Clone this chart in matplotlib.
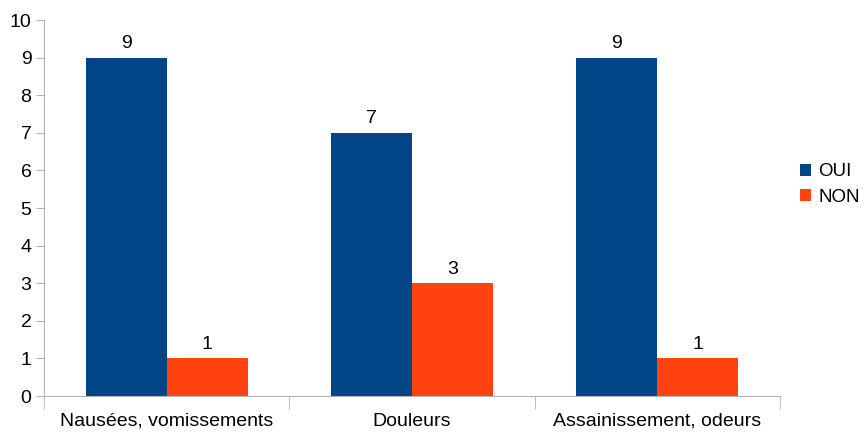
import numpy as np
import matplotlib.pyplot as plt

plt.rcParams['font.family'] = ['Liberation Sans', 'DejaVu Sans']

categories = ['Nausées, vomissements', 'Douleurs', 'Assainissement, odeurs']
oui = [9, 7, 9]
non = [1, 3, 1]
series_names = ['OUI', 'NON']
colors = ['#004586', '#ff420e']

fig = plt.figure(figsize=(8.66, 4.32), dpi=100)
ax = fig.add_axes([0.0508, 0.0833, 0.85, 0.8704])

x = np.arange(len(categories))
w = 0.33
b1 = ax.bar(x - w / 2, oui, w, color=colors[0], label=series_names[0])
b2 = ax.bar(x + w / 2, non, w, color=colors[1], label=series_names[1])
for bars in (b1, b2):
    ax.bar_label(bars, padding=4, fontsize=14)

ax.set_xlim(-0.5, len(categories) - 0.5)
ax.set_ylim(0, 10)
ax.set_yticks(range(0, 11))
ax.set_xticks(x)
ax.set_xticklabels(categories, fontsize=14)
ax.set_xticks(np.arange(-0.5, len(categories)), minor=True)
ax.tick_params(axis='x', which='major', length=0, pad=12)
ax.tick_params(axis='x', which='minor', length=9, color='#b3b3b3')
ax.tick_params(axis='y', length=6, color='#b3b3b3', labelsize=14, pad=3)

for side in ('top', 'right'):
    ax.spines[side].set_visible(False)
for side in ('left', 'bottom'):
    ax.spines[side].set_color('#b3b3b3')

ax.legend(loc='center left', bbox_to_anchor=(1.007, 0.5625), frameon=False,
          fontsize=13.5, handlelength=0.6, handleheight=0.6, handletextpad=0.35,
          labelspacing=0.45, borderaxespad=0.4)

fig.savefig('out.png', dpi=100)
